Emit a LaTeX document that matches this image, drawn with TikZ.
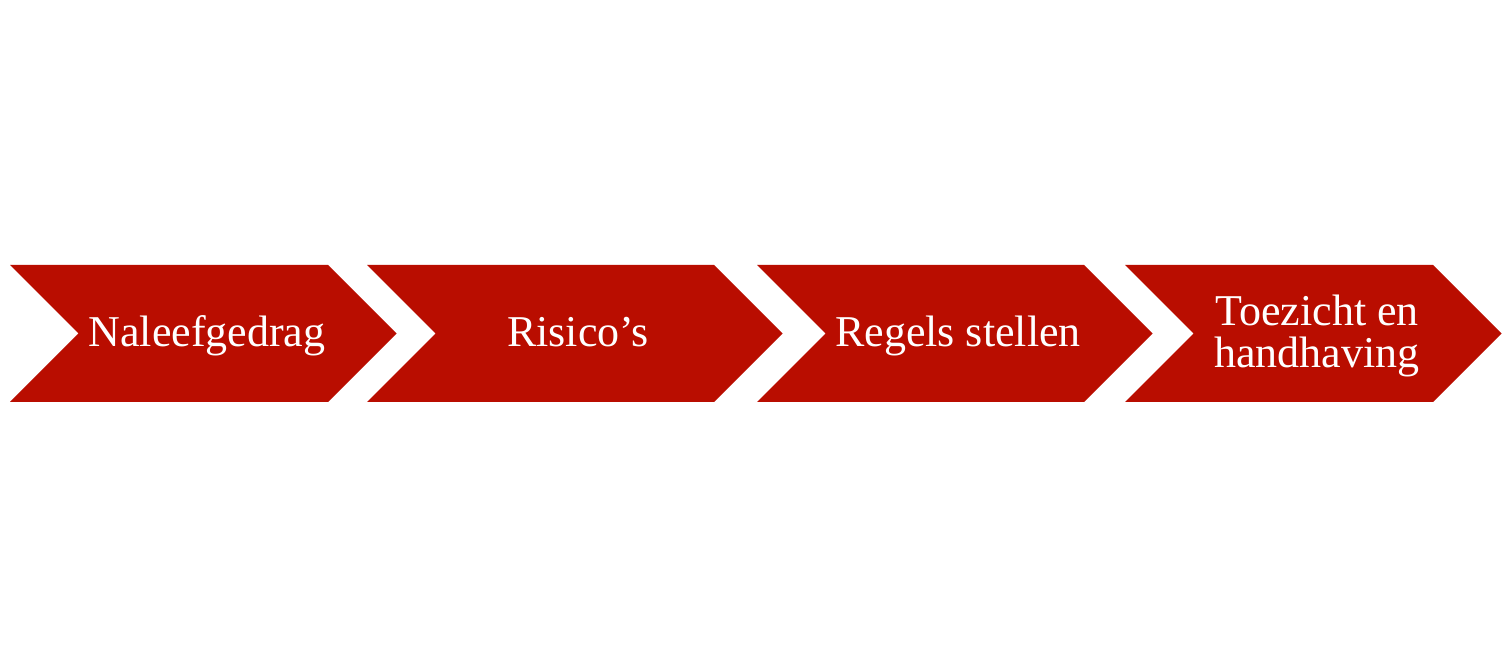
\documentclass[tikz,border=0pt]{standalone}
\usepackage{fontspec}
\setmainfont{Liberation Serif}
\definecolor{chevred}{RGB}{185,13,0}
\begin{document}
\begin{tikzpicture}[x=0.5pt,y=-0.5pt,
  chev/.style={fill=chevred,draw=none},
  lbl/.style={text=white,font=\fontsize{22}{21}\selectfont,align=center,inner sep=0pt}]
\useasboundingbox (0,0) rectangle (1508,667);
\fill[white] (0,0) rectangle (1508,667);
% chevrons: left x, top-right corner x
\foreach \l/\r in {10/328, 367/714, 757/1084, 1125/1433}{
  \path[chev] (\l,265) -- (\r,265) -- (\r+68.5,333.5) -- (\r,402) -- (\l,402) -- (\l+68.5,333.5) -- cycle;
}
\node[lbl,anchor=base] (n1) at (207,347) {Naleefgedrag};
\node[lbl,anchor=base] (n2) at (578,347) {Risico’s};
\node[lbl,anchor=base] (n3) at (958,347) {Regels stellen};
\node[lbl] (n4) at (1317,335.5) {Toezicht en\\handhaving};
\end{tikzpicture}
\end{document}
